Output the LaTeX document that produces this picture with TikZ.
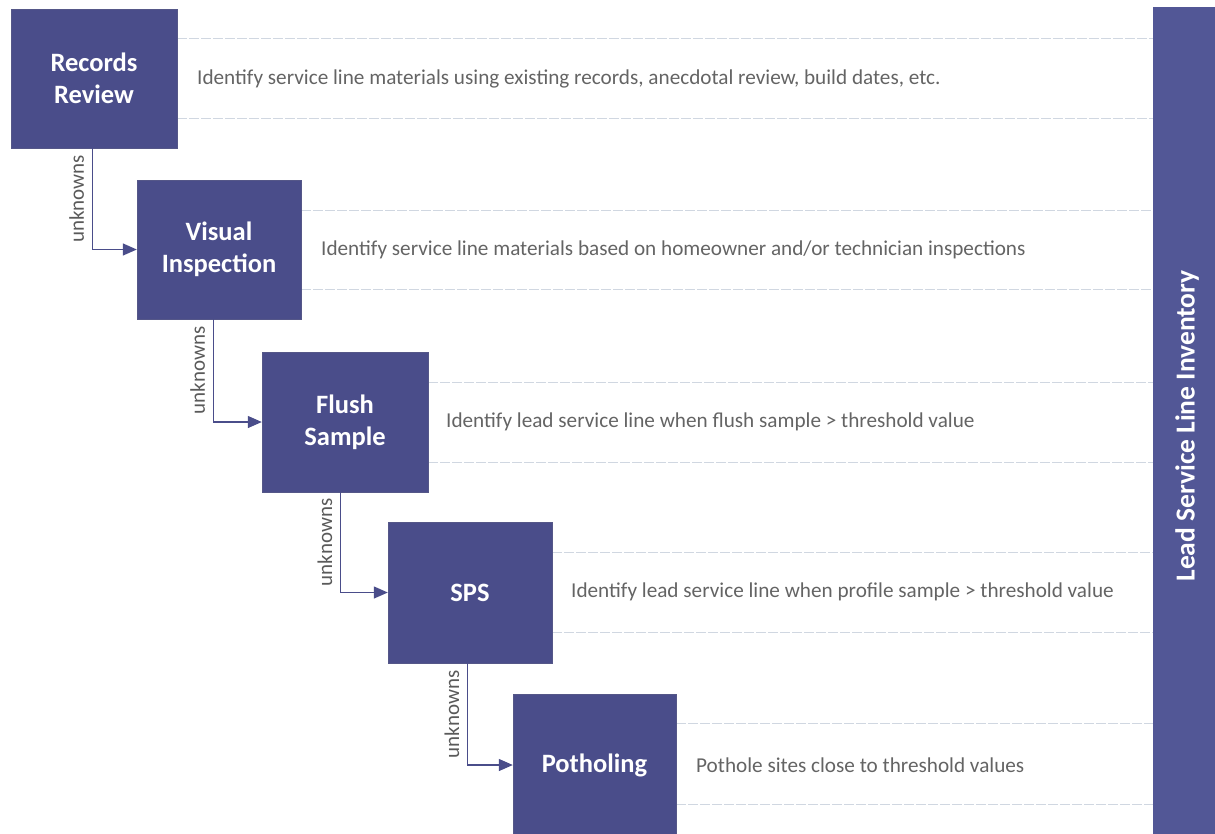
\documentclass[tikz,border=0pt]{standalone}
\usepackage{fontspec}
\setmainfont{Carlito}
\usetikzlibrary{arrows.meta,calc}
\definecolor{boxblue}{RGB}{74,77,138}
\definecolor{barblue}{RGB}{82,87,150}
\definecolor{desc}{RGB}{100,100,100}
\definecolor{bandline}{RGB}{208,215,225}
\tikzset{
  stepbox/.style={fill=boxblue, draw=boxblue!80!gray, inner sep=0pt, text=white,
    font=\fontsize{26.5}{32}\selectfont\bfseries, align=center},
  descr/.style={anchor=west, text=desc, font=\fontsize{21.2}{25}\selectfont, inner sep=0pt},
  band/.style={draw=bandline, dashed, dash pattern=on 10pt off 2pt, line width=0.6pt},
  flow/.style={draw=boxblue, line width=1.3pt, -{Triangle[length=14pt,width=12pt]}},
  unk/.style={rotate=90, anchor=south, font=\fontsize{21}{25}\selectfont, text=desc!90!black, inner sep=8pt}
}
\begin{document}
\begin{tikzpicture}[x=1pt,y=-1pt]
\useasboundingbox (0,0) rectangle (1215,833);
\clip (0,0) rectangle (1215,833);
% bands
\draw[band] (177,38) -- (1153,38);
\draw[band] (177,118) -- (1153,118);
\draw[band] (301,210) -- (1153,210);
\draw[band] (301,289) -- (1153,289);
\draw[band] (428,382) -- (1153,382);
\draw[band] (428,462) -- (1153,462);
\draw[band] (552,552) -- (1153,552);
\draw[band] (552,632) -- (1153,632);
\draw[band] (676,723) -- (1153,723);
\draw[band] (676,804) -- (1153,804);
% boxes
\node[stepbox, minimum width=166, minimum height=139] (b1) at (94,78.5) {Records\\Review};
\node[stepbox, minimum width=164, minimum height=139] (b2) at (219,249.5) {Visual\\Inspection};
\node[stepbox, minimum width=166, minimum height=140] (b3) at (345,422) {Flush\\Sample};
\node[stepbox, minimum width=164, minimum height=141] (b4) at (470,592.5) {SPS};
\node[stepbox, minimum width=163, minimum height=142] (b5) at (594.5,765) {Potholing};
% bar
\node[fill=barblue, minimum width=62, minimum height=840, inner sep=0pt, anchor=north west] (bar) at (1153,7) {};
\node[rotate=90, text=white, font=\fontsize{27.5}{32}\selectfont\bfseries] (barlabel) at (1187,426) {Lead Service Line Inventory};
% descriptions
\node[descr] (d1) at (197,79) {Identify service line materials using existing records, anecdotal review, build dates, etc.};
\node[descr] (d2) at (321,250) {Identify service line materials based on homeowner and/or technician inspections};
\node[descr] (d3) at (446,422) {Identify lead service line when flush sample > threshold value};
\node[descr] (d4) at (571,592) {Identify lead service line when profile sample > threshold value};
\node[descr] (d5) at (696,765) {Pothole sites close to threshold values};
% arrows
\draw[flow] ($(b1.south west)+(82,0)$) coordinate (a1) |- (b2.west) node[pos=0.25, unk] {unknowns};
\draw[flow] ($(b2.south west)+(77,0)$) coordinate (a2) |- (b3.west) node[pos=0.25, unk] {unknowns};
\draw[flow] ($(b3.south west)+(79,0)$) coordinate (a3) |- (b4.west) node[pos=0.25, unk] {unknowns};
\draw[flow] ($(b4.south west)+(80,0)$) coordinate (a4) |- (b5.west) node[pos=0.25, unk] {unknowns};
\end{tikzpicture}
\end{document}
